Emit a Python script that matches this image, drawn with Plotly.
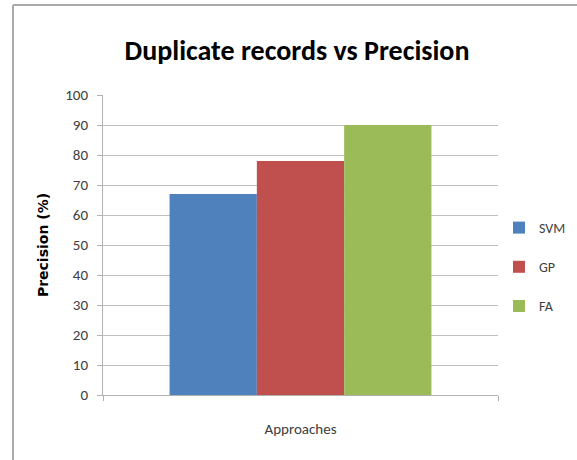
import plotly.graph_objects as go

series_names = ["SVM", "GP", "FA"]
precision_values = [67, 78, 90]
category = ["Approaches"]
y_ticks = [0, 10, 20, 30, 40, 50, 60, 70, 80, 90, 100]
colors = ["#4F81BD", "#C0504D", "#9BBB59"]

FONT = "Carlito, Lato, 'Open Sans', sans-serif"

W, H = 577, 460
ml, mr, mt, mb = 103, 79, 95, 65
pw, ph = W - ml - mr, H - mt - mb

fig = go.Figure()
for name, val, col in zip(series_names, precision_values, colors):
    fig.add_trace(go.Bar(
        x=category, y=[val], name=name, marker_color=col,
        marker_line_width=0, legendgroup=name,
    ))

def px_x(x):
    return (x - ml) / pw

def px_y(y):
    return 1 - (y - mt) / ph

fig.update_layout(
    width=W, height=H,
    margin=dict(l=ml, r=mr, t=mt, b=mb, autoexpand=False),
    paper_bgcolor="white", plot_bgcolor="white",
    barmode="group", bargap=0.337, bargroupgap=0,
    font=dict(family=FONT, color="#404040", size=14),
    title=dict(text="<b>Duplicate records vs Precision</b>",
               x=297 / W, xanchor="center", y=1 - 50 / H, yanchor="middle",
               font=dict(family=FONT, size=28, color="black")),
    legend=dict(x=px_x(499), xanchor="left", y=px_y(212), yanchor="top",
                font=dict(family=FONT, size=14, color="#404040"),
                tracegroupgap=18, bgcolor="rgba(0,0,0,0)"),
    showlegend=True,
    shapes=[
        dict(type="line", xref="paper", yref="paper",
             x0=px_x(13), x1=px_x(W), y0=px_y(5), y1=px_y(5),
             line=dict(color="#AAAAAA", width=2)),
        dict(type="line", xref="paper", yref="paper",
             x0=px_x(13), x1=px_x(13), y0=px_y(5), y1=px_y(H),
             line=dict(color="#AAAAAA", width=2)),
    ],
)

fig.update_xaxes(
    showticklabels=False, tickson="boundaries", ticks="outside", ticklen=5,
    tickcolor="#B0B0B0", showline=True, linecolor="#B0B0B0", linewidth=1,
    showgrid=False, zeroline=False,
    title=dict(text="Approaches", standoff=28,
               font=dict(family=FONT, size=15, color="#404040")),
)
fig.update_yaxes(
    range=[0, 100], tickvals=y_ticks, ticks="outside", ticklen=5,
    tickcolor="#B0B0B0", showline=True, linecolor="#B0B0B0", linewidth=1,
    showgrid=True, gridcolor="#C0C0C0", gridwidth=1, zeroline=False,
    tickfont=dict(family=FONT, size=15, color="#404040"),
    ticklabelstandoff=6,
    title=dict(text="<b>Precision (%)</b>", standoff=13,
               font=dict(family="'DejaVu Sans', sans-serif", size=14, color="black")),
)

fig.write_html("out.html", config={"displayModeBar": False},
               post_script="document.body.style.margin='0';document.body.style.overflow='hidden';")
